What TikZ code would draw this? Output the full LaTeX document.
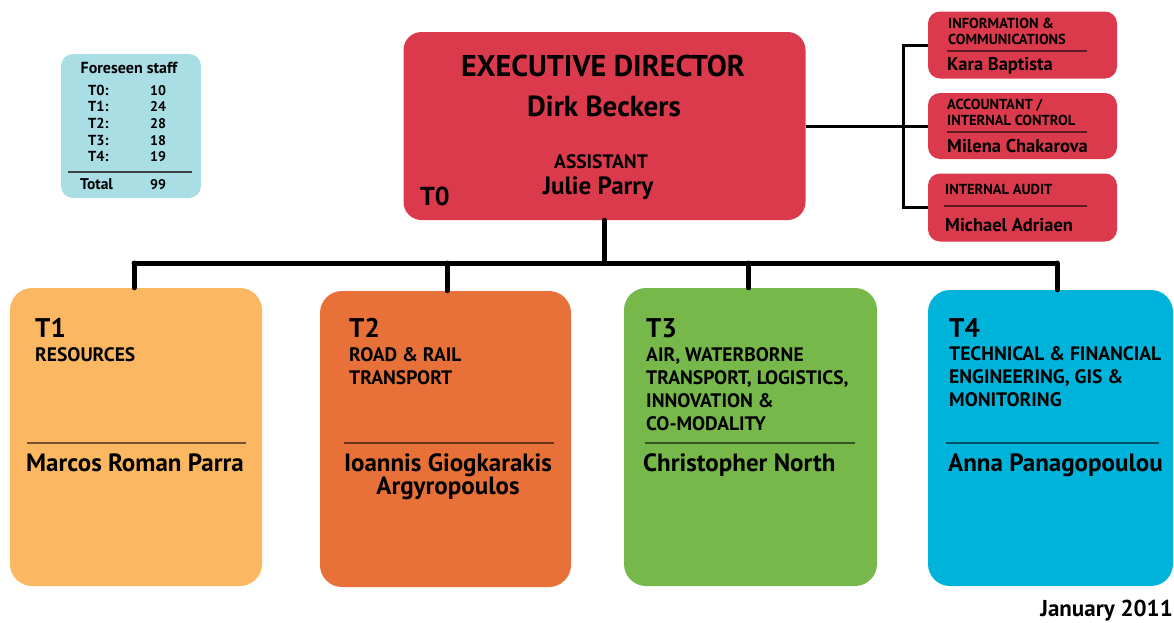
\documentclass[tikz,border=0pt]{standalone}
\usepackage{fontspec}
\setmainfont{PT Sans}
\definecolor{staffblue}{HTML}{A9DEE5}
\definecolor{execred}{HTML}{DB3A4C}
\definecolor{tone}{HTML}{FBB762}
\definecolor{ttwo}{HTML}{E8713A}
\definecolor{tthree}{HTML}{77B84B}
\definecolor{tfour}{HTML}{00B3DB}
\newcommand\myfs[1]{\fontsize{#1}{#1}\selectfont}
\begin{document}
\begin{tikzpicture}[x=1pt,y=-1pt,
  box/.style={draw=none, rounded corners=#1, inner sep=0pt},
  box/.default=18pt,
  txt/.style={inner sep=0pt, font=\bfseries},
  wire/.style={line width=5pt, black, line cap=round},
  wirer/.style={line width=3pt, black},
  divider/.style={line width=2.5pt}]
\useasboundingbox (0,0) rectangle (1174,622);

% staff box
\node[box=12pt, fill=staffblue, minimum width=140pt, minimum height=144pt] (staff) at (131,126) {};
\node[txt, anchor=mid] (stafft) at (129,71) {\myfs{16}Foreseen staff};
\foreach \l/\v/\y [count=\i] in {T0:/10/93, T1:/24/109, T2:/28/126, T3:/18/143, T4:/19/159}{
  \node[txt, anchor=mid west] (sl\i) at (88,\y) {\myfs{14.5}\l};
  \node[txt, anchor=mid west] (sv\i) at (150,\y) {\myfs{14}\v};
}
\coordinate (sla) at (68,172);
\coordinate (slb) at (192,172);
\draw[line width=2pt, black!75] (sla) -- (slb);
\node[txt, anchor=mid west] (stot) at (80,187) {\myfs{15.5}Total};
\node[txt, anchor=mid west] (stotv) at (150,187) {\myfs{14}99};

% executive director
\node[box, fill=execred, minimum width=402pt, minimum height=188pt] (exec) at (604.5,126) {};
\node[txt, anchor=mid] (e1) at (603,74) {\myfs{30}EXECUTIVE DIRECTOR};
\node[txt, anchor=mid] (e2) at (604,114) {\myfs{29}Dirk Beckers};
\node[txt, anchor=mid] (e3) at (601,166) {\myfs{19.5}ASSISTANT};
\node[txt, anchor=mid] (e4) at (598,192) {\myfs{25}Julie Parry};
\node[txt, anchor=mid west] (e5) at (420,203) {\myfs{26}T0};

% right-hand boxes
\node[box=12pt, fill=execred, minimum width=189pt, minimum height=67pt] (ic) at (1022.5,45) {};
\node[txt, anchor=mid west] (ic1) at (948,26) {\myfs{14.5}INFORMATION \&};
\node[txt, anchor=mid west] (ic2) at (948,42) {\myfs{14.5}COMMUNICATIONS};
\coordinate (ica) at (947,51); \coordinate (icb) at (1087,51);
\draw[divider, execred!45!black] (ica) -- (icb);
\node[txt, anchor=mid west] (ic3) at (947,68) {\myfs{18.5}Kara Baptista};

\node[box=12pt, fill=execred, minimum width=189pt, minimum height=66pt] (acc) at (1022.5,126) {};
\node[txt, anchor=mid west] (ac1) at (947,107) {\myfs{14.5}ACCOUNTANT /};
\node[txt, anchor=mid west] (ac2) at (947,123) {\myfs{14.5}INTERNAL CONTROL};
\coordinate (aca) at (947,132); \coordinate (acb) at (1087,132);
\draw[divider, execred!45!black] (aca) -- (acb);
\node[txt, anchor=mid west] (ac3) at (947,150) {\myfs{18.5}Milena Chakarova};

\node[box=12pt, fill=execred, minimum width=189pt, minimum height=68pt] (aud) at (1022.5,207.5) {};
\node[txt, anchor=mid west] (au1) at (945,192) {\myfs{14.5}INTERNAL AUDIT};
\coordinate (aua) at (944,206); \coordinate (aub) at (1087,206);
\draw[divider, execred!45!black] (aua) -- (aub);
\node[txt, anchor=mid west] (au3) at (945,229) {\myfs{18.5}Michael Adriaen};

\coordinate (jr) at (903,126);
\draw[wirer] (exec.east) -- (jr);
\draw[wirer] (ic.west) -| (jr);
\draw[wirer] (aud.west) -| (jr);
\draw[wirer] (acc.west) -- (jr);

% bottom boxes
\node[box=22pt, fill=tone, minimum width=252pt, minimum height=298pt] (t1) at (136,437) {};
\node[box=22pt, fill=ttwo, minimum width=251pt, minimum height=296pt] (t2) at (445.5,439) {};
\node[box=22pt, fill=tthree, minimum width=253pt, minimum height=298pt] (t3) at (750.5,437) {};
\node[box=22pt, fill=tfour, minimum width=245pt, minimum height=296pt] (t4) at (1050.5,438) {};

% bus
\coordinate (bus) at (604.5,263);
\draw[wire] (exec.south) -- (bus);
\draw[wire] ([xshift=-2pt]t1.north |- bus) -- ([xshift=6.5pt]t4.north |- bus);
\draw[wire] ([xshift=-2pt]t1.north |- bus) -- ([xshift=-2pt]t1.north);
\draw[wire] ([xshift=1.5pt]t2.north |- bus) -- ([xshift=1.5pt]t2.north);
\draw[wire] ([xshift=-2pt]t3.north |- bus) -- ([xshift=-2pt]t3.north);
\draw[wire] ([xshift=6.5pt]t4.north |- bus) -- ([xshift=6.5pt]t4.north);

% T1
\node[txt, anchor=mid west] (t1a) at (35,335) {\myfs{27}T1};
\node[txt, anchor=mid west] (t1b) at (35,359) {\myfs{19.5}RESOURCES};
\coordinate (t1l) at (27,443); \coordinate (t1r) at (246,443);
\draw[divider, tone!45!black] (t1l) -- (t1r);
\node[txt, anchor=mid] (t1n) at (135,469) {\myfs{25}Marcos Roman Parra};

% T2
\node[txt, anchor=mid west] (t2a) at (349,335) {\myfs{27}T2};
\node[txt, anchor=mid west] (t2b) at (349,359) {\myfs{19.5}ROAD \& RAIL};
\node[txt, anchor=mid west] (t2c) at (349,382) {\myfs{19.5}TRANSPORT};
\coordinate (t2l) at (344,443); \coordinate (t2r) at (554,443);
\draw[divider, ttwo!45!black] (t2l) -- (t2r);
\node[txt, anchor=mid] (t2n) at (448,469) {\myfs{25}Ioannis Giogkarakis};
\node[txt, anchor=mid] (t2m) at (448,492) {\myfs{25}Argyropoulos};

% T3
\node[txt, anchor=mid west] (t3a) at (646,335) {\myfs{27}T3};
\node[txt, anchor=mid west] (t3b) at (646,359) {\myfs{19.5}AIR, WATERBORNE};
\node[txt, anchor=mid west] (t3c) at (646,382) {\myfs{19.5}TRANSPORT, LOGISTICS,};
\node[txt, anchor=mid west] (t3d) at (646,405) {\myfs{19.5}INNOVATION \&};
\node[txt, anchor=mid west] (t3e) at (646,428) {\myfs{19.5}CO-MODALITY};
\coordinate (t3l) at (645,443); \coordinate (t3r) at (855,443);
\draw[divider, tthree!45!black] (t3l) -- (t3r);
\node[txt, anchor=mid west] (t3n) at (643,469) {\myfs{25}Christopher North};

% T4
\node[txt, anchor=mid west] (t4a) at (949,335) {\myfs{27}T4};
\node[txt, anchor=mid west] (t4b) at (949,358) {\myfs{19.5}TECHNICAL \& FINANCIAL};
\node[txt, anchor=mid west] (t4c) at (949,381) {\myfs{19.5}ENGINEERING, GIS \&};
\node[txt, anchor=mid west] (t4d) at (949,404) {\myfs{19.5}MONITORING};
\coordinate (t4l) at (946,443); \coordinate (t4r) at (1159,443);
\draw[divider, tfour!45!black] (t4l) -- (t4r);
\node[txt, anchor=mid west] (t4n) at (948,469) {\myfs{25}Anna Panagopoulou};

\node[txt, anchor=mid east] (date) at (1173,614) {\myfs{23}January 2011};
\end{tikzpicture}
\end{document}
